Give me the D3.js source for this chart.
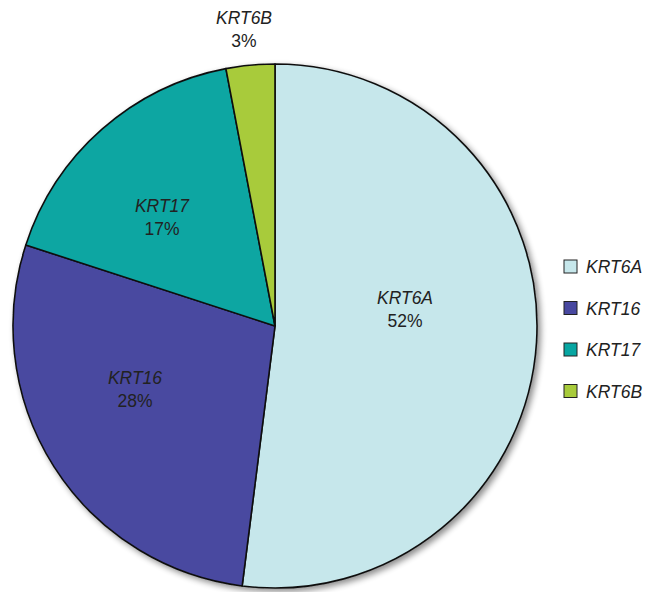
<!DOCTYPE html>
<html><head><meta charset="utf-8">
<script src="https://cdn.jsdelivr.net/npm/d3@7"></script>
<style>body{margin:0;background:#fff;} svg{display:block;}</style>
</head><body>
<script>
const categories = ["KRT6A", "KRT16", "KRT17", "KRT6B"];
const values = [52, 28, 17, 3];
const percentLabels = ["52%", "28%", "17%", "3%"];
const colors = ["#c6e7eb", "#4848a0", "#07a6a2", "#a8cb3b"];

const W = 649, H = 592;
const cx = 275, cy = 326, R = 262;
const svg = d3.select("body").append("svg").attr("width", W).attr("height", H);

const defs = svg.append("defs");
const f = defs.append("filter").attr("id", "sh").attr("x", "-10%").attr("y", "-10%").attr("width", "120%").attr("height", "120%");
f.append("feGaussianBlur").attr("in", "SourceAlpha").attr("stdDeviation", 3).attr("result", "b");
f.append("feOffset").attr("in", "b").attr("dx", 3).attr("dy", 3).attr("result", "o");
f.append("feComponentTransfer").attr("in", "o").attr("result", "o2")
  .append("feFuncA").attr("type", "linear").attr("slope", 0.45);
const m = f.append("feMerge");
m.append("feMergeNode").attr("in", "o2");
m.append("feMergeNode").attr("in", "SourceGraphic");

const data = categories.map((c, i) => ({ name: c, value: values[i], pct: percentLabels[i], color: colors[i] }));
const pie = d3.pie().value(d => d.value).sort(null);
const arcs = pie(data);
const arc = d3.arc().innerRadius(0).outerRadius(R);

const g = svg.append("g").attr("transform", `translate(${cx},${cy})`);
const pg = g.append("g").attr("filter", "url(#sh)");
pg.selectAll("path").data(arcs).join("path")
  .attr("d", arc).attr("fill", d => d.data.color)
  .attr("stroke", "#111").attr("stroke-width", 1.6).attr("stroke-linejoin", "round");

// label offsets relative to pie centre
const labelXY = [[130, -22], [-140, 58], [-113, -114], [-31, -302]];
const lg = g.append("g").attr("font-family", "Liberation Sans, Arial, sans-serif").attr("font-size", 17.5).attr("fill", "#222").attr("text-anchor", "middle");
arcs.forEach((a, i) => {
  const [x, y] = labelXY[i];
  lg.append("text").attr("x", x).attr("y", y).attr("font-style", "italic").text(a.data.name);
  lg.append("text").attr("x", x).attr("y", y + 23).text(a.data.pct);
});

// legend
const leg = svg.append("g").attr("transform", "translate(564,260)")
  .attr("font-family", "Liberation Sans, Arial, sans-serif").attr("font-size", 17.5);
const li = leg.selectAll("g").data(data).join("g").attr("transform", (d, i) => `translate(0,${i * 41.5})`);
li.append("rect").attr("x", 0).attr("y", 0).attr("width", 13).attr("height", 13)
  .attr("fill", d => d.color).attr("stroke", "#222").attr("stroke-width", 1);
li.append("text").attr("x", 22).attr("y", 13).attr("font-style", "italic").attr("fill", "#222").text(d => d.name);
</script>
</body></html>
